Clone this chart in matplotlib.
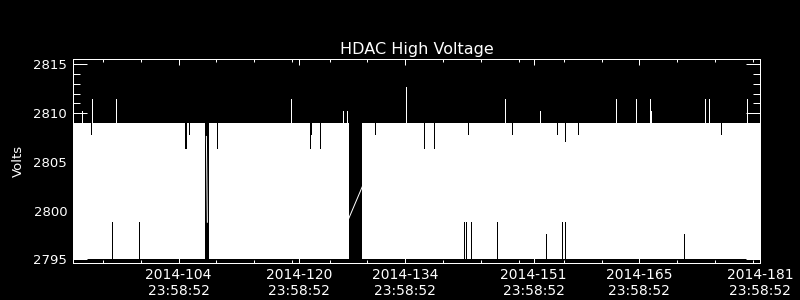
import matplotlib
matplotlib.use("Agg")
import matplotlib.pyplot as plt

# day of year 2014 (tick labels sit at 23:58:52 of each day)
major_days = [104, 120, 134, 151, 165, 181]
minor_days = [94, 99, 109, 114, 119, 124, 129, 139, 144, 149, 155, 160, 170, 175, 180]
tick_time = "23:58:52"

# the voltage toggles fast between two levels, so the trace fills a band
low_volt = 2795.0
high_volt = 2809.0
seg_start = [90.0, 108.02, 128.35]
seg_end = [107.49, 126.54, 181.0]

# samples above the band
up_day = [91.27, 92.55, 95.77, 118.87, 125.78, 126.27, 134.11, 147.25,
          151.88, 161.93, 164.52, 166.38, 166.51, 173.70, 174.23, 179.21]
up_volt = [2810.2, 2811.4, 2811.4, 2811.4, 2810.2, 2810.2, 2812.7, 2811.4,
           2810.2, 2811.4, 2811.4, 2811.4, 2810.2, 2811.4, 2811.4, 2811.4]

# columns where the top level was not reached
dip_day = [92.46, 104.87, 105.0, 105.42, 109.04, 121.34, 121.55, 122.74,
           130.07, 136.49, 137.82, 142.36, 148.13, 154.08, 155.14, 156.86, 175.77]
dip_volt = [2807.8, 2806.4, 2806.4, 2807.8, 2806.4, 2806.4, 2807.8, 2806.4,
            2807.8, 2806.4, 2806.4, 2807.8, 2807.8, 2807.8, 2807.1, 2807.8, 2807.8]

# columns where the bottom level was not reached
rise_day = [95.24, 98.81, 141.78, 142.0, 142.71, 146.15, 152.63, 154.74, 155.14, 170.87]
rise_volt = [2798.8, 2798.8, 2798.8, 2798.8, 2798.8, 2798.8, 2797.6, 2798.8, 2798.8, 2797.6]

# lines drawn across the two data gaps
gap1_day = [107.69, 107.82]
gap1_volt = [2807.6, 2798.8]
gap2_day = [126.54, 128.35]
gap2_volt = [2799.2, 2802.5]

px = 0.72  # one pixel at 100 dpi, in points

fig = plt.figure(figsize=(8, 3), dpi=100, facecolor="black")
ax = fig.add_axes([0.0909, 0.1223, 0.8595, 0.68])
ax.set_facecolor("black")

for s, e in zip(seg_start, seg_end):
    ax.fill_between([s, e], low_volt, high_volt, color="white", lw=0, antialiased=False)

ax.vlines(up_day, high_volt, up_volt, color="white", lw=px, antialiased=False)
ax.vlines(dip_day, dip_volt, high_volt, color="black", lw=px, antialiased=False)
ax.vlines(rise_day, low_volt, rise_volt, color="black", lw=px, antialiased=False)
ax.plot(gap1_day, gap1_volt, color="white", lw=px)
ax.plot(gap2_day, gap2_volt, color="white", lw=px)

ax.set_xlim(90.0, 181.0)
ax.set_ylim(2794.59, 2815.51)

ax.set_xticks(major_days)
ax.set_xticklabels(["2014-%d\n%s" % (d, tick_time) for d in major_days])
ax.set_xticks(minor_days, minor=True)
ax.set_yticks([2795, 2800, 2805, 2810, 2815])
ax.set_yticks(range(2795, 2816), minor=True)

for sp in ax.spines.values():
    sp.set_color("white")
    sp.set_linewidth(px)

ax.tick_params(which="both", colors="white", direction="in", top=True, right=True,
               width=px)
ax.tick_params(axis="x", which="major", length=4.3, pad=3.5, labelsize=10)
ax.tick_params(axis="x", which="minor", length=2.2)
ax.tick_params(axis="y", which="major", length=10, pad=4, labelsize=9.5)
ax.tick_params(axis="y", which="minor", length=5)

ax.set_title("HDAC High Voltage", color="white", fontsize=11.5, pad=4)
fig.text(18.7 / 800, 0.4623, "Volts", color="white", fontsize=9.5,
         rotation=90, ha="center", va="center")

fig.savefig("out.png", dpi=100, facecolor="black")
